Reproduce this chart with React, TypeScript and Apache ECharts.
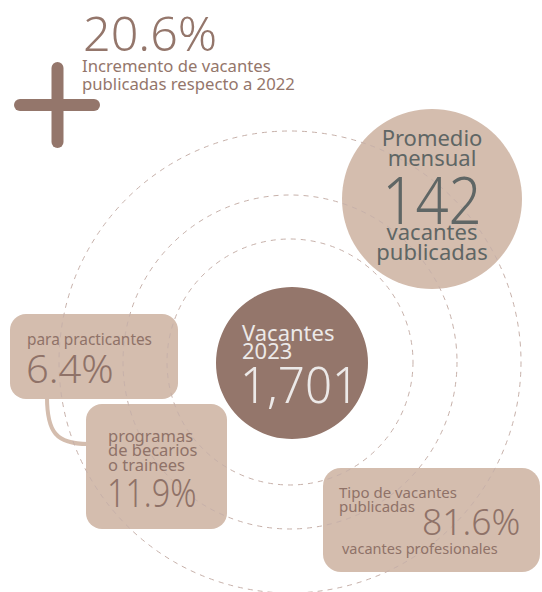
import React, { useEffect, useRef } from "react";
import * as echarts from "echarts";

// ---- data ----
const headline = { value: "20.6%", label: ["Incremento de vacantes", "publicadas respecto a 2022"] };
const centerStat = { label: ["Vacantes", "2023"], value: "1,701" };
const monthlyStat = { top: ["Promedio", "mensual"], value: "142", bottom: ["vacantes", "publicadas"] };
const practicantes = { label: ["para practicantes"], value: "6.4%" };
const becarios = { label: ["programas", "de becarios", "o trainees"], value: "11.9%" };
const profesionales = { label: ["Tipo de vacantes", "publicadas"], value: "81.6%", sub: "vacantes profesionales" };
const ringRadii = [123, 167, 231];

const DARK = "#94766b";
const BEIGE = "#d4bdae";
const BOXTEXT = "#8f7268";
const GRAY = "#5f6665";
const RING = "#c7b1aa";
const LIGHT = "#ece9e8";
const FONT = "'Noto Sans', 'Open Sans', sans-serif";

function txt(text: string | string[], x: number, y: number, size: number, fill: string, weight = "normal", align = "left", sx = 1, lh = 0) {
  return {
    type: "text",
    z: 10,
    x,
    y,
    scaleX: sx,
    style: {
      text: Array.isArray(text) ? text.join("\n") : text,
      x: 0,
      y: 0,
      fill,
      font: `${weight} ${size}px ${FONT}`,
      lineHeight: lh || Math.round(size * 0.8),
      textAlign: align,
      textVerticalAlign: "middle",
    },
  };
}

export default function App() {
  const ref = useRef<HTMLDivElement>(null);
  useEffect(() => {
    const chart = echarts.init(ref.current!, null, { renderer: "svg" });
    const cx = 290, cy = 362;
    const els: any[] = [];
    // boxes
    els.push({ type: "rect", z: 1, shape: { x: 10, y: 314, width: 168, height: 85, r: 16 }, style: { fill: BEIGE } });
    els.push({ type: "rect", z: 1, shape: { x: 86, y: 404, width: 141, height: 125, r: 16 }, style: { fill: BEIGE } });
    els.push({ type: "rect", z: 1, shape: { x: 323, y: 468, width: 217, height: 104, r: 18 }, style: { fill: BEIGE } });
    els.push({
      type: "bezierCurve",
      z: 1,
      shape: { x1: 47, y1: 397, x2: 88, y2: 444, cpx1: 47, cpy1: 432, cpx2: 56, cpy2: 444 },
      style: { stroke: BEIGE, lineWidth: 4, fill: null },
    });
    // circles
    els.push({ type: "circle", z: 1, shape: { cx: 432, cy: 199, r: 90 }, style: { fill: BEIGE } });
    els.push({ type: "circle", z: 1, shape: { cx: 292, cy: 363, r: 76 }, style: { fill: DARK } });
    // rings
    ringRadii.forEach((r) => {
      els.push({
        type: "circle",
        z: 3,
        shape: { cx, cy, r },
        style: { fill: null, stroke: RING, lineWidth: 1, lineDash: [5, 5] },
      });
    });
    // plus sign
    els.push({ type: "line", z: 2, shape: { x1: 57.5, y1: 68, x2: 57.5, y2: 142 }, style: { stroke: DARK, lineWidth: 12, lineCap: "round" } });
    els.push({ type: "line", z: 2, shape: { x1: 20, y1: 105, x2: 94, y2: 105 }, style: { stroke: DARK, lineWidth: 12, lineCap: "round" } });
    // headline
    els.push(txt(headline.value, 83, 32, 48, DARK, "300", "left", 1.01, 40));
    els.push(txt(headline.label, 82, 74, 16.7, DARK, "normal", "left", 1, 18));
    // monthly
    els.push(txt(monthlyStat.top, 432, 147, 22, GRAY, "normal", "center", 1, 20));
    els.push(txt(monthlyStat.value, 432, 199, 66, GRAY, "300", "center", 0.88, 46));
    els.push(txt(monthlyStat.bottom, 432, 241, 22, GRAY, "normal", "center", 1, 20));
    // center
    els.push(txt(centerStat.label, 242, 341, 22, LIGHT, "normal", "left", 1, 18));
    els.push(txt(centerStat.value, 240, 384, 50, LIGHT, "300", "left", 0.95, 36));
    // practicantes
    els.push(txt(practicantes.label, 27, 339, 15.4, BOXTEXT, "normal", "left", 1, 15));
    els.push(txt(practicantes.value, 26, 368, 38, BOXTEXT, "300", "left", 1.05, 30));
    // becarios
    els.push(txt(becarios.label, 108, 449.5, 16.5, BOXTEXT, "normal", "left", 1, 14.5));
    els.push(txt(becarios.value, 107, 492, 38, BOXTEXT, "300", "left", 0.85, 30));
    // profesionales
    els.push(txt(profesionales.label, 339, 499, 15, BOXTEXT, "normal", "left", 1, 14));
    els.push(txt(profesionales.value, 422, 521, 37, BOXTEXT, "300", "left", 0.96, 28));
    els.push(txt(profesionales.sub, 342, 548, 14.5, BOXTEXT, "normal", "left", 1, 15));

    chart.setOption({ animation: false, graphic: { elements: els } });
    return () => chart.dispose();
  }, []);
  return <div ref={ref} style={{ position: "fixed", left: 0, top: 0, width: 542, height: 592, background: "#fff" }} />;
}
